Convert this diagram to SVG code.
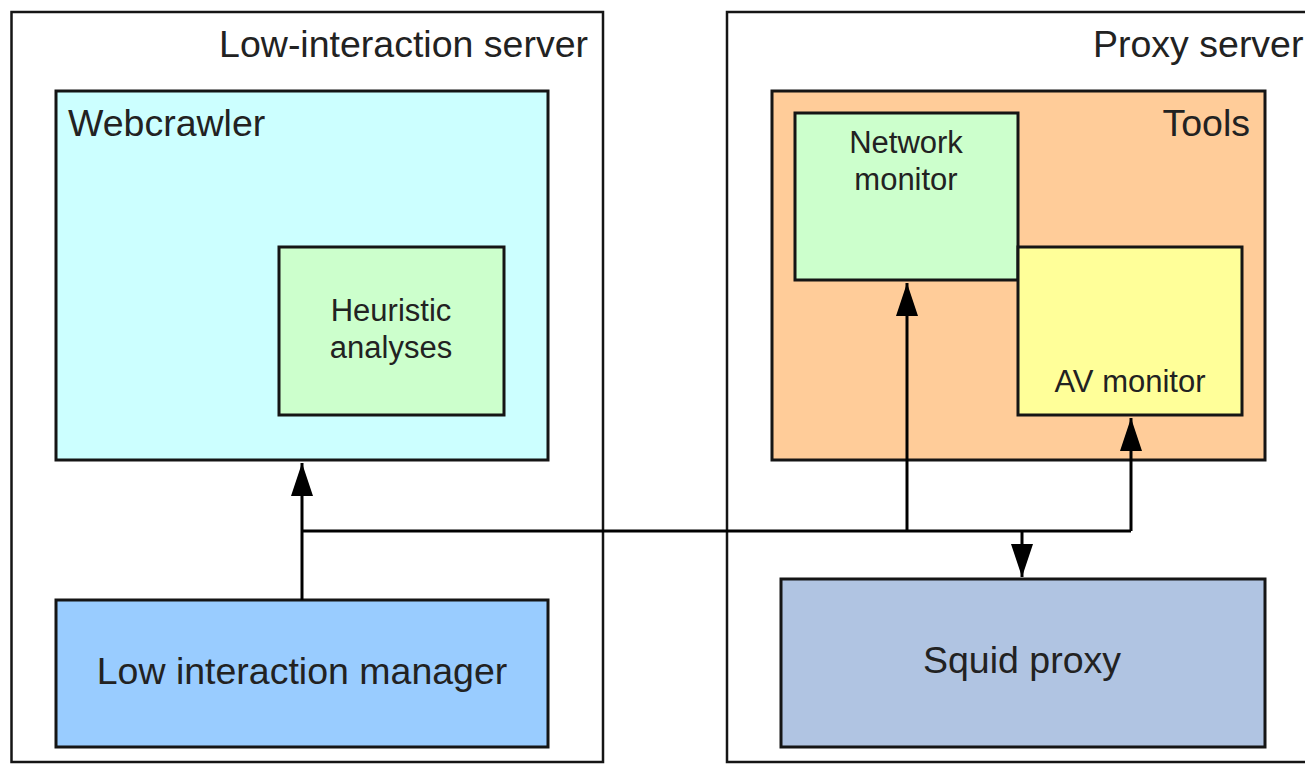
<svg xmlns="http://www.w3.org/2000/svg" width="1305" height="764" viewBox="0 0 1305 764">
<style>
.box{stroke:#151515;stroke-width:3}
.outer{fill:#ffffff;stroke:#151515;stroke-width:2.5}
.t{font-family:"Liberation Sans",Arial,sans-serif;fill:#222222}
.big{font-size:37.5px}
.small{font-size:31px}
.conn{fill:none;stroke:#000000;stroke-width:3}
</style>
<defs>
<marker id="arr" markerUnits="userSpaceOnUse" markerWidth="34" markerHeight="24" viewBox="0 0 34 24" refX="33" refY="12" orient="auto">
<polygon points="0,1 33,12 0,23" fill="#000000"/>
</marker>
</defs>
<g id="low-interaction-server">
<rect class="outer" x="11.5" y="12" width="591.5" height="750"/>
<text class="t big" x="588" y="57" text-anchor="end">Low-interaction server</text>
</g>
<g id="proxy-server">
<rect class="outer" x="727" y="12" width="600" height="750"/>
<text class="t big" x="1093" y="57">Proxy server</text>
</g>
<g id="webcrawler">
<rect class="box" x="56" y="91" width="492" height="369" fill="#CCFFFF"/>
<text class="t big" x="68" y="136">Webcrawler</text>
</g>
<g id="heuristic-analyses">
<rect class="box" x="279" y="247" width="225" height="168" fill="#CCFFCC"/>
<text class="t small" x="391" y="321" text-anchor="middle">Heuristic</text>
<text class="t small" x="391" y="358" text-anchor="middle">analyses</text>
</g>
<g id="low-interaction-manager">
<rect class="box" x="56" y="600" width="492" height="147" fill="#99CCFF"/>
<text class="t big" x="302" y="684" text-anchor="middle">Low interaction manager</text>
</g>
<g id="tools">
<rect class="box" x="772" y="91" width="493" height="369" fill="#FFCC99"/>
<text class="t big" x="1250" y="136" text-anchor="end">Tools</text>
</g>
<g id="network-monitor">
<rect class="box" x="795" y="113" width="223" height="167" fill="#CCFFCC"/>
<text class="t small" x="906" y="153" text-anchor="middle">Network</text>
<text class="t small" x="906" y="190" text-anchor="middle">monitor</text>
</g>
<g id="av-monitor">
<rect class="box" x="1018" y="247" width="224" height="168" fill="#FFFF99"/>
<text class="t small" x="1130" y="392" text-anchor="middle">AV monitor</text>
</g>
<g id="squid-proxy">
<rect class="box" x="781" y="579" width="484" height="168" fill="#B0C4E2"/>
<text class="t big" x="1022" y="673" text-anchor="middle">Squid proxy</text>
</g>
<g id="connectors">
<path class="conn" d="M302,600 V463" marker-end="url(#arr)"/>
<path class="conn" d="M302,531 H1131" stroke-width="3.5"/>
<path class="conn" d="M907,531 V283" marker-end="url(#arr)"/>
<path class="conn" d="M1131,531 V418" marker-end="url(#arr)"/>
<path class="conn" d="M1022,531 V577" marker-end="url(#arr)"/>
</g>
</svg>
